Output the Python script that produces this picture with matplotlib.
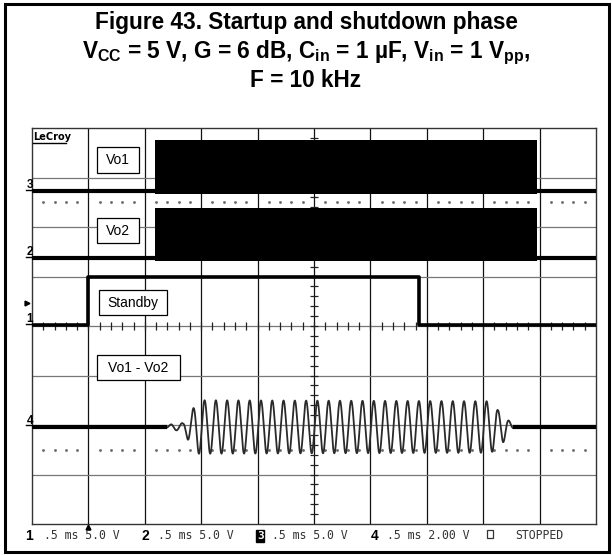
import numpy as np
import matplotlib
matplotlib.use("Agg")
import matplotlib.pyplot as plt
from matplotlib.patches import Rectangle

plt.rcParams['mathtext.fontset'] = 'custom'
plt.rcParams['mathtext.rm'] = 'Liberation Sans:bold'
plt.rcParams['mathtext.it'] = 'Liberation Sans:bold'
plt.rcParams['mathtext.bf'] = 'Liberation Sans:bold'

# --- data, in screen divisions (x: 0..10, y: 0..8) ---
burst_on, burst_off = 2.18, 8.95
vo1_level, vo1_top = 6.72, 7.76
vo2_level, vo2_top = 5.37, 6.38
standby_t = [0, 1.0, 1.0, 6.86, 6.86, 10]
standby_v = [4.02, 4.02, 4.98, 4.98, 4.02, 4.02]
diff_level = 1.96
diff_freq = 5.0          # cycles per division (10 kHz at .5 ms/div)
diff_phase = 0.06
env_t = [0, 2.35, 2.48, 2.68, 2.77, 2.85, 2.95, 8.06, 8.17, 8.26, 8.35, 8.46, 8.56, 10]
env_a = [0, 0, 0.06, 0.08, 0.27, 0.36, 0.54, 0.52, 0.5, 0.34, 0.32, 0.12, 0, 0]
quiet_end, quiet_start = 2.35, 8.56

channel_labels = ["Vo1", "Vo2", "Standby", "Vo1 - Vo2"]
footer = [("1", ".5 ms 5.0 V"), ("2", ".5 ms 5.0 V"), ("3", ".5 ms 5.0 V"), ("4", ".5 ms 2.00 V")]

W, H = 612, 555
fig = plt.figure(figsize=(W / 100, H / 100), dpi=100)

# scope screen
sx0, sy0, sx1, sy1 = 32, 128, 596, 524
ax = fig.add_axes([sx0 / W, 1 - sy1 / H, (sx1 - sx0) / W, (sy1 - sy0) / H])
ax.set_xlim(0, 10)
ax.set_ylim(0, 8)
ax.set_xticks([])
ax.set_yticks([])
for s in ax.spines.values():
    s.set_color('#333')
    s.set_linewidth(1.0)

for x in range(1, 10):
    ax.axvline(x, color='#111', lw=0.9, zorder=1)
for y in range(1, 8):
    ax.axhline(y, color='#777', lw=0.9, zorder=1)

# centre axis minor ticks
minor = np.arange(0.2, 10, 0.2)
ax.vlines(minor, 4 - 0.08, 4 + 0.08, color='#222', lw=0.9, zorder=1)
minor_y = np.arange(0.2, 8, 0.2)
ax.hlines(minor_y, 5 - 0.07, 5 + 0.07, color='#222', lw=0.9, zorder=1)

# dotted rows
dots = np.array([v for v in np.arange(0.2, 10, 0.2) if abs(v - round(v)) > 0.05])
for yy in (6.5, 1.5):
    ax.plot(dots, np.full_like(dots, yy), ls='none', marker='s', ms=0.9, color='#666', zorder=1)

# Vo1 / Vo2 bursts
for lvl, top in ((vo1_level, vo1_top), (vo2_level, vo2_top)):
    ax.plot([0, burst_on], [lvl, lvl], color='black', lw=3, zorder=3)
    ax.plot([burst_off, 10], [lvl, lvl], color='black', lw=3, zorder=3)
    ax.fill_between([burst_on, burst_off], lvl - 0.06, top, color='black', lw=0, zorder=3)

# Standby
ax.plot(standby_t, standby_v, color='black', lw=2.6, zorder=3)

# Vo1 - Vo2
t = np.linspace(0, 10, 6000)
env = np.interp(t, env_t, env_a)
sig = diff_level + env * np.cos(2 * np.pi * diff_freq * (t - diff_phase))
ax.plot(t, sig, color='#2a2a2a', lw=1.3, zorder=3)
ax.plot([0, quiet_end], [diff_level, diff_level], color='black', lw=3, zorder=3)
ax.plot([quiet_start, 10], [diff_level, diff_level], color='black', lw=3, zorder=3)

# overlay in pixel coordinates
pix = fig.add_axes([0, 0, 1, 1], zorder=5)
pix.set_xlim(0, W)
pix.set_ylim(H, 0)
pix.axis('off')
pix.patch.set_alpha(0)

pix.add_patch(Rectangle((4.5, 3.5), 604, 548, fill=False, ec='black', lw=2.2))

title_kw = dict(ha='center', va='baseline', fontsize=16.3, fontweight='bold', family='Liberation Sans')
pix.text(306, 29, "Figure 43. Startup and shutdown phase", **title_kw)
pix.text(306, 58, r"$\mathrm{V_{CC}}$ = 5 V, G = 6 dB, $\mathrm{C_{in}}$ = 1 µF, $\mathrm{V_{in}}$ = 1 $\mathrm{V_{pp}}$,", **title_kw)
pix.text(306, 87, "F = 10 kHz", **title_kw)

# LeCroy logo
pix.text(33, 140, "LeCroy", fontsize=7, fontweight='bold', family='DejaVu Sans', va='baseline')
pix.plot([33, 66], [143, 143], color='black', lw=1)

# boxed channel labels
boxes = [(97, 147, 42, 26), (97, 218, 42, 25), (99, 290, 68, 25), (97, 355, 83, 25)]
for (bx, by, bw, bh), lab in zip(boxes, channel_labels):
    pix.add_patch(Rectangle((bx, by), bw, bh, fc='white', ec='black', lw=0.9))
    pix.text(bx + bw / 2, by + bh / 2 + 0.5, lab, ha='center', va='center', fontsize=10, family='Liberation Sans')

# channel markers at the left
def ypix(v):
    return sy1 - v * (sy1 - sy0) / 8

for lab, lvl in (("3", vo1_level), ("2", vo2_level), ("1", standby_v[0]), ("4", diff_level)):
    yp = ypix(lvl)
    pix.text(26.5, yp - 3, lab, fontsize=8.5, fontweight='bold', family='Liberation Sans', va='baseline')
    pix.plot([25.5, 32], [yp - 1.5, yp - 1.5], color='black', lw=1)
pix.plot([27], [303], marker='>', ms=3.5, color='black')

# footer
mono = dict(family='DejaVu Sans Mono', fontsize=8.3, color='#333', va='baseline')
num = dict(family='Liberation Sans', fontsize=10, fontweight='bold', va='baseline')
num_x = [25, 141, 256, 371]
txt_x = [44, 158, 272, 387]
for (n, s), nx, tx in zip(footer, num_x, txt_x):
    if n == "3":
        pix.text(nx + 1, 539, n, color='white', fontsize=8, fontweight='bold', family='DejaVu Sans Mono',
                 va='baseline', bbox=dict(boxstyle='square,pad=0.05', fc='black', ec='black'))
    else:
        pix.text(nx, 539.5, n, **num)
    pix.text(tx, 539, s, **mono)
pix.add_patch(Rectangle((487, 530), 6, 8, fill=False, ec='#333', lw=0.9))
pix.text(515, 539, "STOPPED", **mono)
pix.plot([88], [526.5], marker='^', ms=3.5, color='black')

fig.savefig("out.png", dpi=100)
